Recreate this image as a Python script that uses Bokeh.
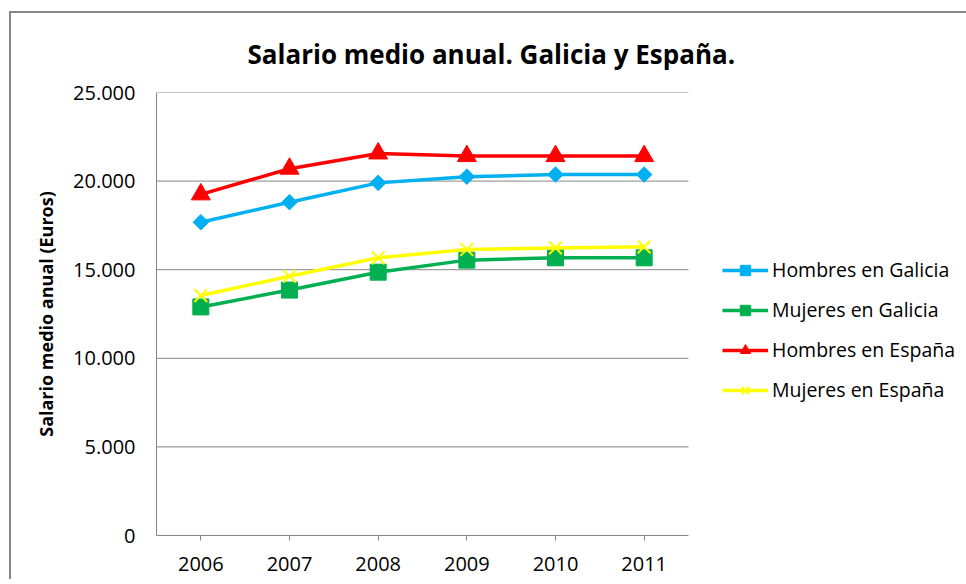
from bokeh.plotting import figure
from bokeh.models import (FixedTicker, Legend, LegendItem, Title, Range1d)
from bokeh.embed import file_html
from bokeh.resources import INLINE
import math

years = [2006, 2007, 2008, 2009, 2010, 2011]
year_labels = ["2006", "2007", "2008", "2009", "2010", "2011"]
hombres_galicia = [17680, 18810, 19900, 20250, 20370, 20370]
mujeres_galicia = [12900, 13850, 14860, 15540, 15670, 15670]
hombres_espana = [19250, 20700, 21560, 21410, 21410, 21410]
mujeres_espana = [13540, 14630, 15670, 16140, 16230, 16290]
y_ticks = [0, 5000, 10000, 15000, 20000, 25000]
y_tick_labels = ["0", "5.000", "10.000", "15.000", "20.000", "25.000"]

FONT = "Open Sans"
GRID = "#868686"

# layout (pixels): plotting area 532 x 443, frame extended right to hold the legend
X0, X1 = years[0] - 0.5, years[-1] + 0.5
Y0, Y1 = y_ticks[0], y_ticks[-1]
PLOT_W = 532
FRAME_W, FRAME_H = 810, 443
x_end = X0 + (X1 - X0) * FRAME_W / PLOT_W

p = figure(frame_width=FRAME_W, frame_height=FRAME_H, output_backend="svg",
           toolbar_location=None,
           x_range=Range1d(X0, x_end), y_range=Range1d(Y0, Y1),
           min_border_left=145, min_border_right=0, min_border_top=79,
           min_border_bottom=44)
p.margin = (11, 0, 0, 9)
p.styles = {"border-top": "2px solid #878787", "border-left": "2px solid #878787"}
p.outline_line_color = None
p.background_fill_color = "white"
p.border_fill_color = "white"

# x axis
p.xaxis.bounds = (X0, X1)
p.xaxis.ticker = FixedTicker(ticks=years)
p.xaxis.major_label_overrides = {y: l for y, l in zip(years, year_labels)}
p.xaxis.major_tick_out = 5
p.xaxis.major_tick_in = 0
p.xaxis.minor_tick_out = 0
p.xaxis.minor_tick_in = 0
p.xaxis.axis_line_color = GRID
p.xaxis.major_tick_line_color = GRID
p.xaxis.major_label_text_font = FONT
p.xaxis.major_label_text_font_size = "20px"
p.xaxis.major_label_text_color = "#000000"
p.xaxis.major_label_standoff = 16
p.xgrid.grid_line_color = None

# y axis
p.yaxis.ticker = FixedTicker(ticks=y_ticks)
p.yaxis.major_label_overrides = {t: l for t, l in zip(y_ticks, y_tick_labels)}
p.yaxis.major_tick_out = 0
p.yaxis.major_tick_in = 0
p.yaxis.minor_tick_out = 0
p.yaxis.minor_tick_in = 0
p.yaxis.axis_line_color = GRID
p.yaxis.major_label_text_font = FONT
p.yaxis.major_label_text_font_size = "20px"
p.yaxis.major_label_text_color = "#000000"
p.yaxis.major_label_standoff = 21
p.yaxis.axis_label = "Salario medio anual (Euros)"
p.yaxis.axis_label_text_font = FONT
p.yaxis.axis_label_text_font_size = "18px"
p.yaxis.axis_label_text_font_style = "bold"
p.yaxis.axis_label_text_color = "#000000"
p.yaxis.axis_label_standoff = 12
p.ygrid.grid_line_color = None

# horizontal gridlines limited to the plotting area
grid_vals = y_ticks[1:]
p.segment(x0=[X0] * len(grid_vals), x1=[X1] * len(grid_vals), y0=grid_vals, y1=grid_vals,
          line_color=GRID, line_width=1)

LW = 3.5
l1 = p.line(years, hombres_galicia, line_color="#00B0F0", line_width=LW)
s1 = p.scatter(years, hombres_galicia, marker="square", size=11, angle=math.pi / 4,
               fill_color="#00B0F0", line_color="#00B0F0")
l2 = p.line(years, mujeres_galicia, line_color="#00B050", line_width=LW)
s2 = p.scatter(years, mujeres_galicia, marker="square", size=16,
               fill_color="#00B050", line_color="#00B050")
l3 = p.line(years, hombres_espana, line_color="#FF0000", line_width=LW)
s3 = p.scatter(years, hombres_espana, marker="triangle", size=19,
               fill_color="#FF0000", line_color="#FF0000")
l4 = p.line(years, mujeres_espana, line_color="#FFFF00", line_width=LW)
s4 = p.scatter(years, mujeres_espana, marker="x", size=18,
               line_color="#FFFF00", line_width=2)

legend = Legend(items=[
    LegendItem(label="Hombres en Galicia", renderers=[l1, s1]),
    LegendItem(label="Mujeres en Galicia", renderers=[l2, s2]),
    LegendItem(label="Hombres en España", renderers=[l3, s3]),
    LegendItem(label="Mujeres en España", renderers=[l4, s4]),
], location=(566, 132))
legend.glyph_width = 46
legend.glyph_height = 26
legend.label_height = 26
legend.spacing = 13
legend.padding = 0
legend.margin = 0
legend.label_standoff = 4
legend.border_line_color = None
legend.background_fill_alpha = 0
legend.label_text_font = FONT
legend.label_text_font_size = "19.5px"
legend.label_text_color = "#000000"
p.add_layout(legend, "center")

title = Title(text="Salario medio anual. Galicia y España.", align="left",
              offset=91, text_font=FONT, text_font_size="26px",
              text_font_style="bold", text_color="#000000")
if "standoff" in Title.properties():
    title.standoff = 41
p.add_layout(title, "above")

open("out.html", "w").write(file_html(p, INLINE))
